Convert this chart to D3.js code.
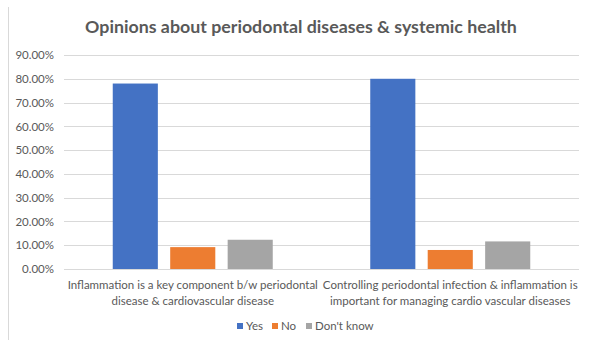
<!DOCTYPE html>
<html>
<head>
<meta charset="utf-8">
<script src="https://cdn.jsdelivr.net/npm/d3@7"></script>
<style>
  html, body { margin: 0; padding: 0; background: #fff; }
  svg { display: block; font-family: Lato, "Open Sans", sans-serif; }
</style>
</head>
<body>
<svg id="chart" width="590" height="340"></svg>
<script>
// Survey categories (two-line labels) and answer shares per series
const categories = [
  ["Inflammation is a key component b/w periodontal", "disease & cardiovascular disease"],
  ["Controlling periodontal infection & inflammation is", "important for managing cardio vascular diseases"]
];
const seriesNames = ["Yes", "No", "Don't know"];
const yesValues = [0.78, 0.80];
const noValues = [0.092, 0.08];
const dontKnowValues = [0.123, 0.116];
const yTicks = [0, 0.1, 0.2, 0.3, 0.4, 0.5, 0.6, 0.7, 0.8, 0.9];
const colors = ["#4472c4", "#ed7d31", "#a5a5a5"];

const seriesValues = [yesValues, noValues, dontKnowValues];
const svg = d3.select("#chart");

const plot = { left: 64, right: 579, top: 55, bottom: 269 };

// Chart frame edge
svg.append("line")
  .attr("x1", 8.5).attr("x2", 8.5).attr("y1", 7).attr("y2", 340)
  .attr("stroke", "#d9d9d9").attr("stroke-width", 1);

// Title
svg.append("text")
  .attr("x", 301).attr("y", 33)
  .attr("text-anchor", "middle")
  .attr("font-size", 17.8).attr("font-weight", "bold")
  .attr("fill", "#595959")
  .text("Opinions about periodontal diseases & systemic health");

const x0 = d3.scaleBand()
  .domain(d3.range(categories.length))
  .range([plot.left, plot.right])
  .paddingInner(0).paddingOuter(0);

const y = d3.scaleLinear().domain([0, 0.9]).range([plot.bottom, plot.top]);

// Inner band for the three bars of a group
const groupWidth = 160;
const x1 = d3.scaleBand()
  .domain(d3.range(seriesNames.length))
  .range([0, groupWidth])
  .paddingInner(0.215).paddingOuter(0);

// Gridlines
svg.append("g")
  .selectAll("line")
  .data(yTicks)
  .join("line")
  .attr("x1", plot.left).attr("x2", plot.right)
  .attr("y1", d => Math.round(y(d)) + 0.5).attr("y2", d => Math.round(y(d)) + 0.5)
  .attr("stroke", "#d9d9d9").attr("stroke-width", 1);

// Y axis labels
const yAxis = d3.axisLeft(y)
  .tickValues(yTicks)
  .tickSize(0)
  .tickPadding(0)
  .tickFormat(d => (d * 100).toFixed(2) + "%");
const yg = svg.append("g")
  .attr("transform", `translate(${plot.left - 10},0)`)
  .call(yAxis);
yg.select(".domain").remove();
yg.selectAll("text")
  .attr("font-size", 11.5)
  .attr("fill", "#595959")
  .attr("font-family", "Lato, sans-serif");

// Bars
const groups = svg.append("g")
  .selectAll("g")
  .data(categories.map((c, i) => i))
  .join("g")
  .attr("transform", i => `translate(${x0(i) + (x0.bandwidth() - groupWidth) / 2},0)`);

groups.selectAll("rect")
  .data(i => seriesValues.map((vals, s) => ({ s, v: vals[i] })))
  .join("rect")
  .attr("x", d => x1(d.s))
  .attr("width", x1.bandwidth())
  .attr("y", d => y(d.v))
  .attr("height", d => y(0) - y(d.v))
  .attr("fill", d => colors[d.s]);

// Category labels
const catG = svg.append("g");
categories.forEach((lines, i) => {
  const cx = x0(i) + x0.bandwidth() / 2;
  lines.forEach((line, j) => {
    catG.append("text")
      .attr("x", cx).attr("y", 289 + j * 15.5)
      .attr("text-anchor", "middle")
      .attr("font-size", 11.5)
      .attr("fill", "#595959")
      .text(line);
  });
});

// Legend
const legendItems = [
  { x: 237, w: 31 },
  { x: 272, w: 31 },
  { x: 306, w: 70 }
];
const lg = svg.append("g");
seriesNames.forEach((name, i) => {
  lg.append("rect")
    .attr("x", legendItems[i].x).attr("y", 323)
    .attr("width", 6).attr("height", 6)
    .attr("fill", colors[i]);
  lg.append("text")
    .attr("x", legendItems[i].x + 9).attr("y", 330)
    .attr("font-size", 11.5)
    .attr("fill", "#595959")
    .text(name);
});
</script>
</body>
</html>
